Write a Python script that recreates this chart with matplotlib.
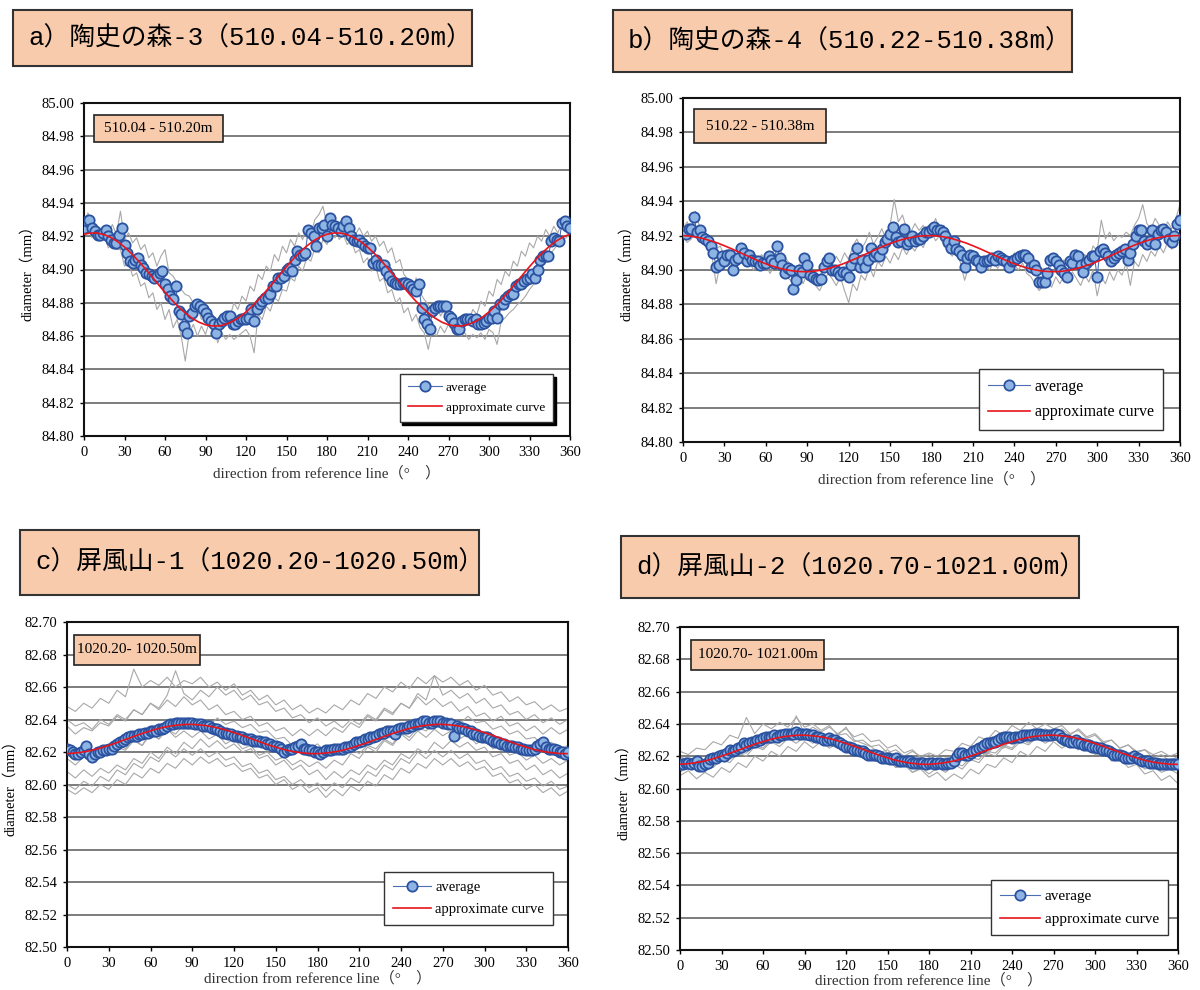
import numpy as np
import matplotlib.pyplot as plt
from matplotlib.patches import Rectangle

plt.rcParams['font.family'] = ['Liberation Serif', 'Noto Sans CJK JP']

# measuring angles (degrees)
ang_avg = np.arange(0, 361, 2)
ang_fit = np.arange(0, 361, 5)
ang_raw_ab = np.arange(0, 361, 3)
ang_raw_cd = np.arange(0, 361, 6)

# every diameter list below is in micrometres above the panel's base diameter
base_ab = 84.90
base_cd = 82.60

titles = ['a）陶史の森-3（510.04-510.20m）', 'b）陶史の森-4（510.22-510.38m）',
          'c）屏風山-1（1020.20-1020.50m）', 'd）屏風山-2（1020.70-1021.00m）']
depths = ['510.04 - 510.20m', '510.22 - 510.38m', '1020.20- 1020.50m', '1020.70- 1021.00m']

# ---- a) 陶史の森-3 ----
avg_a = [25, 29, 30, 25, 23, 21, 21, 22, 24, 20,
         18, 16, 16, 21, 25, 15, 10, 5, 4, 6,
         7, 3, 1, -2, -3, -4, -5, -4, -2, -1,
         -9, -12, -16, -18, -10, -25, -27, -34, -38, -28,
         -26, -22, -21, -22, -24, -26, -29, -31, -33, -38,
         -33, -31, -29, -28, -28, -33, -33, -31, -30, -30,
         -30, -29, -24, -31, -24, -21, -19, -17, -17, -15,
         -10, -10, -5, -5, -4, 0, 1, -1, 6, 11,
         9, 9, 10, 24, 22, 20, 14, 25, 25, 27,
         20, 31, 27, 26, 25, 23, 26, 29, 25, 20,
         18, 17, 18, 16, 14, 13, 13, 4, 6, 3,
         3, 3, -1, -4, -7, -8, -9, -9, -8, -8,
         -9, -10, -12, -13, -9, -23, -30, -33, -36, -25,
         -23, -22, -22, -22, -22, -28, -29, -32, -36, -36,
         -31, -30, -30, -30, -31, -30, -33, -33, -32, -31,
         -29, -29, -25, -29, -21, -21, -18, -16, -15, -15,
         -10, -9, -9, -7, -6, -5, -3, -5, 0, 6,
         8, 8, 8, 17, 19, 18, 17, 28, 29, 26,
         25]
fit_a = [21.2, 21.9, 21.9, 20.9, 19.2, 16.7, 13.5, 9.7, 5.4, 0.8, -4.0, -8.9,
         -13.7, -18.3, -22.5, -26.1, -29.2, -31.6, -33.2, -33.9, -33.9, -32.9, -31.2, -28.7,
         -25.5, -21.7, -17.4, -12.8, -8.0, -3.1, 1.7, 6.3, 10.5, 14.1, 17.2, 19.6,
         21.2, 21.9, 21.9, 20.9, 19.2, 16.7, 13.5, 9.7, 5.4, 0.8, -4.0, -8.9,
         -13.7, -18.3, -22.5, -26.1, -29.2, -31.6, -33.2, -33.9, -33.9, -32.9, -31.2, -28.7,
         -25.5, -21.7, -17.4, -12.8, -8.0, -3.1, 1.7, 6.3, 10.5, 14.1, 17.2, 19.6,
         21.2]
raw_a1 = [28, 34, 25, 22, 20, 21, 13, 16, 12, 12,
          2, 4, -4, -2, -10, -8, -17, -14, -24, -20,
          -30, -24, -35, -30, -40, -55, -38, -33, -40, -34,
          -39, -31, -36, -30, -33, -25, -29, -20, -24, -16,
          -19, -10, -13, -3, -6, 2, -1, 9, 5, 14,
          10, 18, 14, 22, 18, 26, 21, 30, 33, 38,
          27, 25, 28, 18, 21, 15, 18, 10, 12, 4,
          7, -1, 2, -7, -5, -14, -12, -20, -17, -26,
          -23, -31, -27, -35, -38, -48, -36, -40, -34, -38,
          -33, -37, -31, -35, -28, -31, -24, -27, -19, -22,
          -13, -16, -6, -9, -1, -4, 5, 2, 11, 8,
          16, 13, 20, 17, 24, 20, 26, 22, 28, 25,
          26]
raw_a2 = [20, 25, 19, 24, 20, 26, 22, 27, 21, 35,
          18, 22, 16, 19, 12, 15, 7, 10, 2, 8,
          12, -2, -4, -8, -12, -15, -16, -20, -22, -30,
          -26, -34, -30, -44, -38, -42, -39, -42, -40, -38,
          -36, -40, -50, -27, -30, -22, -25, -17, -19, -12,
          -13, -5, -7, 2, -1, 7, 5, 13, 10, 18,
          15, 22, 19, 26, 22, 27, 25, 21, 25, 20,
          23, 17, 20, 14, 17, 10, 13, 4, 6, -3,
          -6, -15, -5, -14, -18, -21, -24, -19, -28, -24,
          -33, -36, -38, -40, -38, -42, -39, -41, -38, -42,
          -36, -38, -45, -31, -29, -26, -24, -21, -19, -16,
          -12, -9, -6, 1, 5, 9, 12, 15, 18, 19,
          21]

# ---- b) 陶史の森-4 ----
avg_b = [22, 21, 24, 24, 31, 22, 23, 19, 18, 17,
         14, 10, 2, 3, 8, 5, 9, 9, 0, 6,
         7, 13, 10, 5, 9, 6, 5, 5, 3, 4,
         4, 8, 6, 4, 14, 7, 3, -2, 1, 0,
         -11, -6, 0, -1, 7, 3, -3, -4, -5, -6,
         -5, 2, 5, 7, 0, 0, -1, -3, -1, -2,
         -4, 3, 7, 13, 2, 6, 2, 6, 13, 8,
         10, 8, 12, 16, 18, 21, 25, 19, 16, 17,
         24, 15, 17, 20, 17, 18, 18, 20, 22, 22,
         24, 25, 23, 23, 22, 20, 16, 13, 17, 12,
         11, 9, 2, 7, 9, 8, 6, 5, 2, 5,
         5, 6, 7, 6, 8, 7, 6, 5, 2, 5,
         6, 7, 8, 9, 9, 7, 2, 3, 0, -7,
         -7, -7, -2, 6, 7, 5, 3, 0, -2, -4,
         5, 4, 9, 8, 3, -1, 4, 6, 8, 8,
         -4, 11, 12, 10, 8, 5, 7, 9, 10, 11,
         12, 6, 10, 15, 20, 23, 23, 17, 15, 17,
         23, 15, 21, 23, 24, 22, 18, 16, 20, 27,
         29]
fit_b = [20.0, 19.7, 19.1, 18.2, 17.0, 15.7, 14.1, 12.4, 10.6, 8.8, 7.0, 5.2,
         3.6, 2.2, 1.0, 0.1, -0.6, -0.9, -1.0, -0.7, -0.1, 0.8, 2.0, 3.3,
         4.9, 6.6, 8.4, 10.2, 12.0, 13.8, 15.4, 16.8, 18.0, 18.9, 19.6, 19.9,
         20.0, 19.7, 19.1, 18.2, 17.0, 15.7, 14.1, 12.4, 10.6, 8.8, 7.0, 5.2,
         3.6, 2.2, 1.0, 0.1, -0.6, -0.9, -1.0, -0.7, -0.1, 0.8, 2.0, 3.3,
         4.9, 6.6, 8.4, 10.2, 12.0, 13.8, 15.4, 16.8, 18.0, 18.9, 19.6, 19.9,
         20.0]
raw_b1 = [24, 28, 22, 34, 25, 22, 18, 16, 12, 14,
          8, 12, 10, 6, 9, 13, 8, 11, 6, 9,
          4, 8, 12, 16, 9, 6, 3, -2, 2, 9,
          5, 0, -8, -4, 2, 6, 3, 8, 4, 10,
          6, 14, 18, 12, 16, 22, 15, 19, 24, 18,
          26, 41, 28, 32, 24, 22, 27, 23, 26, 21,
          24, 30, 22, 26, 18, 20, 14, 12, 6, 10,
          4, 8, 3, 6, 2, 7, 9, 5, 8, 4,
          10, 7, 12, 8, 6, 3, -2, 1, -3, 4,
          8, 3, 6, 2, 8, 12, 6, 9, 5, 14,
          11, 29, 18, 22, 17, 20, 19, 22, 20, 26,
          30, 38, 27, 24, 30, 26, 22, 28, 24, 30,
          38]
raw_b2 = [20, 16, 18, 22, 18, 15, 12, 8, -8, 4,
          2, 6, -2, 3, 8, 2, 5, 0, 4, 1,
          3, -2, 2, 6, 0, -4, -6, -10, -4, -8,
          -2, -6, -9, -12, -7, -2, -5, -9, -4, -12,
          -19, -8, -12, -3, -6, 2, -4, 5, 2, 8,
          4, 10, 6, 13, 9, 14, 11, 16, 13, 19,
          22, 17, 20, 14, 11, 8, 12, 4, -6, 2,
          6, 1, -2, 3, 0, 4, 1, 5, 2, -1,
          3, 0, 4, -2, -4, -8, -12, -9, -6, -10,
          -4, -8, -3, -6, -1, -5, -9, -3, -7, 0,
          -15, -4, -8, -1, -6, 0, -3, 4, -9, 5,
          2, 9, 5, 11, 8, 14, 10, 16, 12, 18,
          22]

# ---- c) 屏風山-1 ----
avg_c = [22, 21, 20, 19, 19, 20, 21, 24, 19, 17,
         19, 20, 20, 21, 21, 22, 22, 24, 25, 26,
         27, 28, 29, 30, 30, 30, 31, 31, 32, 32,
         33, 33, 33, 34, 34, 35, 36, 37, 37, 38,
         38, 38, 38, 38, 38, 38, 37, 37, 37, 36,
         36, 36, 35, 34, 34, 33, 32, 32, 31, 31,
         30, 30, 29, 29, 28, 28, 28, 27, 27, 27,
         26, 26, 25, 25, 24, 24, 23, 22, 20, 21,
         22, 22, 23, 24, 25, 22, 22, 21, 21, 20,
         20, 19, 20, 21, 21, 21, 22, 22, 22, 22,
         23, 23, 24, 25, 26, 26, 27, 28, 28, 29,
         29, 30, 31, 32, 32, 33, 33, 33, 31, 34,
         35, 35, 35, 36, 36, 37, 37, 38, 39, 39,
         38, 38, 39, 39, 39, 38, 38, 37, 37, 30,
         36, 35, 35, 34, 33, 33, 31, 31, 30, 29,
         29, 29, 28, 27, 26, 26, 25, 25, 24, 24,
         24, 23, 23, 22, 22, 21, 21, 21, 22, 24,
         25, 26, 23, 22, 22, 22, 21, 20, 20, 19,
         20]
fit_c = [19.0, 19.3, 19.8, 20.5, 21.5, 22.7, 24.1, 25.5, 27.1, 28.6, 30.2, 31.7,
         33.0, 34.3, 35.3, 36.1, 36.6, 37.0, 37.0, 36.7, 36.2, 35.5, 34.5, 33.3,
         31.9, 30.5, 28.9, 27.4, 25.8, 24.3, 23.0, 21.7, 20.7, 19.9, 19.4, 19.0,
         19.0, 19.3, 19.8, 20.5, 21.5, 22.7, 24.1, 25.5, 27.1, 28.6, 30.2, 31.7,
         33.0, 34.3, 35.3, 36.1, 36.6, 37.0, 37.0, 36.7, 36.2, 35.5, 34.5, 33.3,
         31.9, 30.5, 28.9, 27.4, 25.8, 24.3, 23.0, 21.7, 20.7, 19.9, 19.4, 19.0,
         19.0]
raw_c1 = [48, 45, 50, 47, 53, 50, 58, 54, 71, 60,
          64, 61, 66, 60, 64, 62, 66, 60, 63, 58,
          62, 55, 58, 52, 55, 49, 52, 46, 49, 44,
          47, 44, 49, 46, 52, 49, 56, 53, 60, 57,
          63, 59, 66, 62, 67, 63, 66, 61, 64, 58,
          61, 55, 57, 51, 54, 49, 51, 46, 49, 45,
          47]
raw_c2 = [40, 36, 38, 34, 40, 37, 43, 40, 46, 43,
          50, 47, 55, 70, 56, 52, 58, 54, 60, 55,
          58, 52, 55, 49, 51, 45, 47, 41, 43, 38,
          41, 36, 39, 35, 40, 37, 43, 40, 47, 44,
          50, 47, 56, 52, 67, 55, 58, 53, 56, 50,
          53, 47, 49, 43, 45, 40, 43, 38, 41, 37,
          40]
raw_c3 = [36, 31, 35, 33, 38, 36, 42, 39, 46, 43,
          50, 46, 52, 48, 54, 49, 52, 46, 49, 43,
          45, 40, 42, 36, 38, 33, 35, 30, 34, 30,
          34, 30, 35, 32, 38, 35, 42, 39, 46, 43,
          50, 47, 54, 49, 53, 48, 51, 45, 48, 42,
          44, 39, 42, 36, 38, 33, 36, 31, 35, 31,
          34]
raw_c4 = [24, 19, 22, 17, 21, 18, 23, 21, 27, 24,
          31, 28, 34, 31, 37, 34, 40, 36, 41, 37,
          39, 35, 37, 32, 33, 28, 29, 24, 26, 22,
          25, 20, 22, 18, 22, 19, 24, 22, 28, 25,
          32, 29, 35, 33, 39, 36, 41, 37, 42, 38,
          39, 34, 36, 31, 33, 28, 29, 24, 26, 22,
          24]
raw_c5 = [16, 12, 17, 14, 21, 18, 25, 22, 28, 24,
          32, 28, 34, 29, 33, 29, 33, 28, 31, 25,
          28, 22, 24, 18, 20, 15, 17, 12, 15, 11,
          14, 10, 15, 12, 19, 16, 23, 20, 27, 24,
          31, 27, 33, 29, 34, 30, 33, 28, 31, 25,
          28, 22, 24, 18, 20, 15, 18, 13, 16, 12,
          15]
raw_c6 = [8, 4, 9, 5, 10, 7, 12, 9, 16, 13,
          20, 16, 23, 19, 26, 22, 28, 23, 27, 22,
          25, 20, 22, 16, 18, 12, 15, 9, 12, 6,
          9, 3, 8, 4, 9, 6, 12, 9, 15, 12,
          19, 16, 22, 19, 26, 22, 27, 23, 26, 21,
          23, 17, 19, 13, 15, 9, 12, 6, 9, 4,
          7]
raw_c7 = [0, -3, 2, -1, 5, 2, 9, 6, 13, 10,
          17, 14, 21, 17, 22, 18, 22, 17, 20, 15,
          17, 11, 13, 7, 9, 3, 5, 0, 3, -2,
          1, -4, 1, -2, 4, 1, 8, 5, 12, 9,
          16, 13, 20, 16, 21, 17, 21, 16, 19, 13,
          15, 9, 11, 5, 7, 2, 4, -1, 2, -3,
          -1]
raw_c8 = [-3, -6, -2, -5, 0, -3, 3, 0, 7, 4,
          10, 7, 13, 10, 16, 12, 17, 13, 16, 11,
          13, 8, 10, 4, 6, 0, 3, -3, 0, -5,
          -2, -8, -3, -7, -1, -4, 2, -1, 6, 3,
          10, 7, 13, 10, 16, 12, 16, 11, 14, 9,
          11, 5, 7, 1, 3, -3, 0, -5, -2, -7,
          -4]

# ---- d) 屏風山-2 ----
avg_d = [15, 15, 16, 16, 15, 16, 17, 14, 14, 15,
         16, 18, 19, 19, 20, 21, 20, 22, 24, 23,
         24, 25, 26, 28, 27, 28, 29, 29, 30, 30,
         31, 32, 32, 32, 33, 32, 33, 33, 34, 34,
         34, 34, 35, 34, 34, 34, 34, 33, 33, 32,
         32, 31, 30, 30, 31, 30, 30, 29, 28, 27,
         26, 26, 25, 24, 24, 23, 23, 22, 21, 21,
         21, 21, 20, 19, 19, 19, 18, 18, 19, 17,
         17, 17, 17, 17, 16, 16, 16, 16, 16, 15,
         16, 16, 15, 16, 16, 15, 15, 16, 16, 17,
         20, 22, 22, 21, 21, 22, 23, 24, 25, 26,
         27, 28, 28, 29, 29, 30, 31, 32, 32, 32,
         31, 32, 32, 32, 33, 33, 33, 33, 34, 34,
         34, 33, 33, 33, 33, 34, 34, 33, 31, 30,
         30, 29, 29, 30, 28, 28, 27, 27, 27, 26,
         26, 25, 25, 24, 24, 23, 22, 21, 21, 21,
         20, 19, 19, 19, 20, 19, 18, 17, 17, 17,
         16, 16, 16, 15, 15, 15, 15, 15, 15, 15,
         15]
fit_d = [15.0, 15.3, 15.8, 16.5, 17.5, 18.7, 20.1, 21.5, 23.1, 24.6, 26.2, 27.7,
         29.0, 30.3, 31.3, 32.1, 32.6, 33.0, 33.0, 32.7, 32.2, 31.5, 30.5, 29.3,
         27.9, 26.5, 24.9, 23.4, 21.8, 20.3, 19.0, 17.7, 16.7, 15.9, 15.4, 15.0,
         15.0, 15.3, 15.8, 16.5, 17.5, 18.7, 20.1, 21.5, 23.1, 24.6, 26.2, 27.7,
         29.0, 30.3, 31.3, 32.1, 32.6, 33.0, 33.0, 32.7, 32.2, 31.5, 30.5, 29.3,
         27.9, 26.5, 24.9, 23.4, 21.8, 20.3, 19.0, 17.7, 16.7, 15.9, 15.4, 15.0,
         15.0]
raw_d1 = [23, 21, 25, 24, 29, 27, 33, 31, 44, 34,
          40, 37, 41, 38, 44, 38, 40, 36, 39, 33,
          34, 29, 30, 26, 27, 22, 24, 20, 23, 20,
          22, 20, 24, 23, 28, 26, 32, 30, 36, 33,
          39, 36, 41, 37, 40, 37, 39, 34, 36, 31,
          33, 28, 30, 25, 27, 23, 24, 21, 23, 20,
          22]
raw_d2 = [20, 17, 19, 16, 20, 19, 23, 21, 26, 25,
          31, 28, 34, 31, 45, 34, 38, 35, 38, 34,
          37, 32, 34, 29, 30, 25, 27, 22, 24, 19,
          21, 17, 19, 16, 20, 18, 23, 21, 27, 25,
          31, 29, 34, 32, 37, 34, 37, 33, 37, 32,
          34, 29, 30, 25, 27, 22, 24, 19, 21, 17,
          20]
raw_d3 = [16, 14, 19, 17, 22, 20, 26, 24, 30, 27,
          33, 31, 34, 33, 36, 32, 35, 30, 32, 27,
          29, 24, 25, 20, 22, 17, 19, 15, 17, 13,
          16, 13, 18, 15, 21, 19, 25, 22, 28, 26,
          32, 29, 35, 32, 35, 31, 33, 28, 30, 25,
          27, 22, 24, 19, 21, 16, 18, 14, 16, 13,
          15]
raw_d4 = [13, 16, 12, 16, 15, 19, 18, 22, 22, 27,
          25, 30, 28, 33, 30, 34, 31, 34, 30, 33,
          38, 30, 28, 26, 22, 24, 19, 20, 15, 17,
          13, 16, 12, 16, 14, 19, 18, 23, 22, 27,
          25, 31, 28, 33, 30, 34, 31, 33, 29, 31,
          27, 28, 23, 24, 19, 21, 16, 18, 14, 16,
          13]
raw_d5 = [10, 14, 11, 15, 13, 18, 16, 22, 20, 26,
          24, 29, 26, 31, 28, 32, 28, 31, 26, 29,
          24, 25, 20, 21, 16, 18, 13, 15, 10, 13,
          9, 13, 10, 15, 12, 18, 16, 22, 20, 26,
          24, 29, 27, 32, 28, 31, 27, 30, 25, 27,
          22, 24, 18, 20, 15, 17, 12, 14, 10, 12,
          9]
raw_d6 = [8, 11, 6, 10, 7, 13, 10, 16, 13, 20,
          17, 23, 20, 26, 23, 29, 25, 29, 25, 28,
          23, 26, 21, 23, 17, 19, 13, 15, 10, 12,
          7, 10, 5, 9, 6, 12, 9, 15, 13, 19,
          16, 23, 20, 26, 23, 29, 25, 28, 24, 26,
          21, 23, 17, 19, 13, 15, 9, 11, 5, 8,
          3]

PEACH = '#f8cbad'
W, H = 1200.0, 990.0

fig = plt.figure(figsize=(12, 9.9), dpi=100)


def to_mm(base, vals):
    return base + np.asarray(vals, dtype=float) / 1000.0


def rect_px(l, r, t, b):
    return [l / W, 1 - b / H, (r - l) / W, (b - t) / H]


def draw_panel(rect, base, ylo, yhi, avg, fit, raws, raw_ang, depth, tag_box,
               leg_anchor, leg_size, leg_shadow, xpad):
    ax = fig.add_axes(rect)
    for r in raws:
        ax.plot(raw_ang, to_mm(base, r), color='#a8a8a8', lw=0.8, zorder=2)
    ax.plot(ang_avg, to_mm(base, avg), '-o', color='#4a6db5', lw=0.8, ms=7.4,
            mfc='#8db4e2', mec='#2a52a0', mew=1.3, zorder=3, label='average')
    ax.plot(ang_fit, to_mm(base, fit), color='#e8141c', lw=1.2, zorder=4,
            label='approximate curve')

    ax.set_xlim(0, 360)
    ax.set_ylim(ylo, yhi)
    ax.set_xticks(np.arange(0, 361, 30))
    ax.set_yticks(np.linspace(ylo, yhi, 11))
    ax.yaxis.set_major_formatter('{x:.2f}')
    ax.tick_params(labelsize=10.5, length=3, width=1, direction='out', pad=4)
    ax.set_axisbelow(True)
    ax.grid(axis='y', color='#666666', lw=1.2)
    for s in ax.spines.values():
        s.set_linewidth(1.5)
        s.set_color('#111111')

    ax.set_ylabel('diameter（mm）', fontsize=10.5, labelpad=5)
    ax.set_xlabel('direction from reference line（°\u3000）', fontsize=11,
                  color='#333333', labelpad=xpad)

    # depth tag in the upper left corner
    x0, y0, x1, y1 = tag_box
    ax.add_patch(Rectangle((x0, y0), x1 - x0, y1 - y0, transform=ax.transAxes,
                           fc=PEACH, ec='#222222', lw=1.2, zorder=6))
    ax.text((x0 + x1) / 2, (y0 + y1) / 2, depth, transform=ax.transAxes,
            ha='center', va='center', fontsize=11, zorder=7)

    leg = ax.legend(loc='lower right', bbox_to_anchor=leg_anchor, fontsize=leg_size,
                    frameon=True, fancybox=False, framealpha=1, borderaxespad=0,
                    handlelength=2.6, handletextpad=0.3, borderpad=0.6,
                    labelspacing=0.6,
                    shadow={'color': 'black', 'alpha': 1} if leg_shadow else False)
    leg.get_frame().set_edgecolor('#333333')
    leg.get_frame().set_linewidth(1.0)
    leg.set_zorder(8)
    return ax


def title_box(px_box, text):
    x0, y0, x1, y1 = px_box
    fig.add_artist(Rectangle((x0 / W, 1 - y1 / H), (x1 - x0) / W, (y1 - y0) / H,
                             transform=fig.transFigure, fc=PEACH, ec='#333333', lw=1.5))
    fig.text((x0 + 15) / W, 1 - (y0 + y1) / 2 / H, text, ha='left', va='center',
             fontsize=18.5, family=['Liberation Mono', 'Noto Sans CJK JP'])


draw_panel(rect_px(84, 570, 103, 436), base_ab, 84.80, 85.00, avg_a, fit_a,
           [raw_a1, raw_a2], ang_raw_ab, depths[0], (0.021, 0.883, 0.286, 0.964),
           (0.965, 0.042), 9.5, True, 5)
draw_panel(rect_px(683, 1180, 98, 442), base_ab, 84.80, 85.00, avg_b, fit_b,
           [raw_b1, raw_b2], ang_raw_ab, depths[1], (0.022, 0.869, 0.288, 0.968),
           (0.966, 0.035), 11.5, False, 5)
draw_panel(rect_px(67, 568, 622, 947), base_cd, 82.50, 82.70, avg_c, fit_c,
           [raw_c1, raw_c2, raw_c3, raw_c4, raw_c5, raw_c6, raw_c7, raw_c8],
           ang_raw_cd, depths[2], (0.014, 0.868, 0.266, 0.96),
           (0.97, 0.068), 10.5, False, 1)
draw_panel(rect_px(680, 1178, 627, 950), base_cd, 82.50, 82.70, avg_d, fit_d,
           [raw_d1, raw_d2, raw_d3, raw_d4, raw_d5, raw_d6],
           ang_raw_cd, depths[3], (0.023, 0.867, 0.289, 0.96),
           (0.98, 0.046), 11, False, 0)

title_box((13, 10, 472, 66), titles[0])
title_box((613, 10, 1072, 72), titles[1])
title_box((20, 530, 479, 595), titles[2])
title_box((621, 536, 1079, 598), titles[3])

fig.savefig('out.png', dpi=100, facecolor='white')
